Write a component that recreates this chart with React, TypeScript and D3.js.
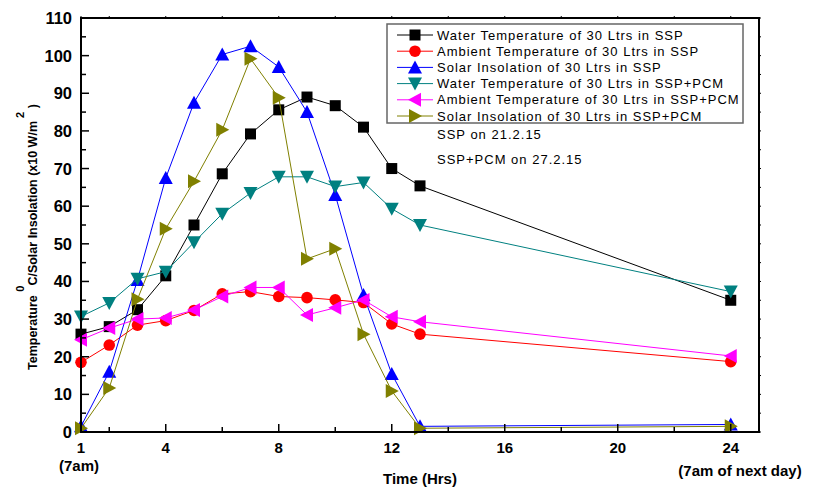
import React from "react";
import * as d3 from "d3";

const hours = [1, 2, 3, 4, 5, 6, 7, 8, 9, 10, 11, 12, 13, 24];
const waterSSP = [26, 28, 32.5, 41.5, 55, 68.6, 79.2, 85.6, 89, 86.7, 81, 70, 65.4, 35];
const ambientSSP = [18.5, 23.1, 28.4, 29.6, 32.3, 36.7, 37.3, 36, 35.7, 35.1, 34.4, 28.7, 26, 18.7];
const solarSSP = [1.5, 16, 40.4, 67.5, 87.5, 100.3, 102.5, 97, 85, 63, 36.4, 15.4, 1.5, 2];
const waterPCM = [30.7, 34.3, 40.7, 42.6, 50.4, 58, 63.5, 67.8, 67.8, 65.2, 66.3, 59.3, 55, 37.3];
const ambientPCM = [24.5, 27.6, 30, 30.3, 32.4, 36, 38.4, 38.4, 31.1, 33, 35.1, 30.6, 29.3, 20.2];
const solarPCM = [1, 11.7, 35.3, 54, 66.6, 80.3, 99.2, 88.8, 46, 48.7, 26, 10.9, 1, 1.5];

const seriesNames = [
  "Water Temperature of 30 Ltrs in SSP",
  "Ambient Temperature of 30 Ltrs in SSP",
  "Solar Insolation of 30 Ltrs in SSP",
  "Water Temperature of 30 Ltrs in SSP+PCM",
  "Ambient Temperature of 30 Ltrs in SSP+PCM",
  "Solar Insolation of 30 Ltrs in SSP+PCM",
];
const seriesValues = [waterSSP, ambientSSP, solarSSP, waterPCM, ambientPCM, solarPCM];
const seriesColors = ["#000000", "#ff0000", "#0000ff", "#008080", "#ff00ff", "#808000"];
const seriesShapes = ["square", "circle", "up", "down", "left", "right"];

const xTickMajor = [1, 4, 8, 12, 16, 20, 24];
const xTickMinor = [2, 6, 10, 14, 18, 22];
const yTickMajor = [0, 10, 20, 30, 40, 50, 60, 70, 80, 90, 100, 110];
const notes = ["SSP on 21.2.15", "SSP+PCM on 27.2.15"];

const W = 819;
const H = 489;
const L = 81, R = 759, T = 18, B = 432;

function Marker({ shape, x, y, color }: { shape: string; x: number; y: number; color: string }) {
  if (shape === "square") return <rect x={x - 5.5} y={y - 5.5} width={11} height={11} fill={color} />;
  if (shape === "circle") return <circle cx={x} cy={y} r={5.8} fill={color} />;
  let pts: [number, number][] = [];
  const a = 7, b = 6;
  if (shape === "up") pts = [[x, y - a], [x - a, y + b], [x + a, y + b]];
  if (shape === "down") pts = [[x, y + a], [x - a, y - b], [x + a, y - b]];
  if (shape === "left") pts = [[x - a, y], [x + b, y - a], [x + b, y + a]];
  if (shape === "right") pts = [[x + a, y], [x - b, y - a], [x - b, y + a]];
  return <polygon points={pts.map((p) => p.join(",")).join(" ")} fill={color} />;
}

export default function App() {
  const x = d3.scaleLinear().domain([1, 25]).range([L, R]);
  const y = d3.scaleLinear().domain([0, 110]).range([B, T]);
  const yMinor = d3.range(5, 110, 10);
  const line = d3
    .line<number>()
    .x((_, i) => x(hours[i]))
    .y((d) => y(d));

  const legX = 387, legY = 24, legW = 356, legH = 99, rowH = 16.2;

  return (
    <div style={{ position: "absolute", left: 0, top: 0 }}>
      <svg width={W} height={H} style={{ display: "block", background: "#fff" }} fontFamily="'Liberation Sans', Arial, sans-serif">
        {seriesValues.map((vals, si) => (
          <g key={si}>
            <path d={line(vals) || ""} fill="none" stroke={seriesColors[si]} strokeWidth={1} />
            {vals.map((v, i) => (
              <Marker key={i} shape={seriesShapes[si]} x={x(hours[i])} y={y(v)} color={seriesColors[si]} />
            ))}
          </g>
        ))}

        <rect x={L} y={T} width={R - L} height={B - T} fill="none" stroke="#000" strokeWidth={2} />

        {xTickMajor.map((t) => (
          <g key={"xm" + t}>
            <line x1={x(t)} x2={x(t)} y1={B} y2={B - 8} stroke="#000" strokeWidth={1.5} />
            <text x={x(t)} y={B + 21} textAnchor="middle" fontWeight="bold" fontSize={15}>
              {t}
            </text>
          </g>
        ))}
        {xTickMinor.map((t) => (
          <line key={"xn" + t} x1={x(t)} x2={x(t)} y1={B} y2={B - 5} stroke="#000" strokeWidth={1.5} />
        ))}
        {[...xTickMajor, ...xTickMinor].map((t) => (
          <line key={"xt" + t} x1={x(t)} x2={x(t)} y1={T} y2={T - 2} stroke="#000" strokeWidth={1} />
        ))}

        {yTickMajor.map((t) => (
          <g key={"ym" + t}>
            <line x1={L} x2={L + 8} y1={y(t)} y2={y(t)} stroke="#000" strokeWidth={1.5} />
            <line x1={R} x2={R + 2} y1={y(t)} y2={y(t)} stroke="#000" strokeWidth={1} />
            <text x={72} y={y(t) + 6} textAnchor="end" fontWeight="bold" fontSize={16.5}>
              {t}
            </text>
          </g>
        ))}
        {yMinor.map((t) => (
          <g key={"yn" + t}>
            <line x1={L} x2={L + 5} y1={y(t)} y2={y(t)} stroke="#000" strokeWidth={1.5} />
            <line x1={R} x2={R + 2} y1={y(t)} y2={y(t)} stroke="#000" strokeWidth={1} />
          </g>
        ))}

        <text x={x(1) - 2} y={471} textAnchor="middle" fontWeight="bold" fontSize={15}>(7am)</text>
        <text x={420} y={484} textAnchor="middle" fontWeight="bold" fontSize={15}>Time (Hrs)</text>
        <text x={740} y={476} textAnchor="middle" fontWeight="bold" fontSize={15}>(7am of next day)</text>

        <text transform="translate(37,370) rotate(-90)" fontWeight="bold" fontSize={12.5}>
          <tspan>Temperature </tspan>
          <tspan dy={-13} fontSize={11}>0</tspan>
          <tspan dy={13}>C/Solar Insolation (x10 W/m</tspan>
          <tspan dy={-13} fontSize={11}> 2</tspan>
          <tspan dy={13}> )</tspan>
        </text>

        <rect x={legX} y={legY} width={legW} height={legH} fill="#fff" stroke="#666" strokeWidth={1.5} />
        {seriesNames.map((name, i) => {
          const cy = legY + 11 + i * rowH;
          return (
            <g key={name}>
              <line x1={397} x2={433} y1={cy} y2={cy} stroke={seriesColors[i]} strokeWidth={1} />
              <Marker shape={seriesShapes[i]} x={415} y={cy} color={seriesColors[i]} />
              <text x={437} y={cy + 4.5} fontSize={13} letterSpacing={1}>
                {name}
              </text>
            </g>
          );
        })}
        {notes.map((n, i) => (
          <text key={n} x={437} y={139 + i * 25} fontSize={13} letterSpacing={1}>
            {n}
          </text>
        ))}
      </svg>
    </div>
  );
}
